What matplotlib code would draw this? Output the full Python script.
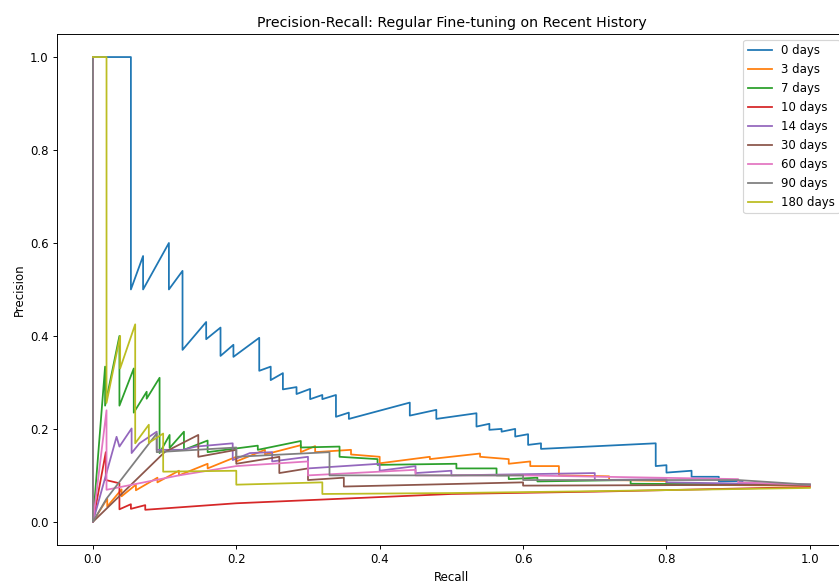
import matplotlib.pyplot as plt

# (recall, precision) vertices of each precision-recall curve
labels = ["0 days", "3 days", "7 days", "10 days", "14 days", "30 days", "60 days", "90 days", "180 days"]

recall_0 = [0, 0.053, 0.053, 0.070, 0.070, 0.106, 0.106, 0.125, 0.125, 0.158, 0.158, 0.178, 0.178, 0.196, 0.196,
            0.232, 0.232, 0.248, 0.248, 0.265, 0.265, 0.284, 0.284, 0.303, 0.303, 0.320, 0.320, 0.339, 0.339,
            0.357, 0.357, 0.442, 0.442, 0.479, 0.479, 0.535, 0.535, 0.553, 0.553, 0.570, 0.570, 0.589, 0.589,
            0.607, 0.607, 0.625, 0.625, 0.785, 0.785, 0.800, 0.800, 0.835, 0.835, 0.873, 0.873, 0.906, 0.906, 1.0]
precision_0 = [1.0, 1.0, 0.50, 0.572, 0.50, 0.60, 0.50, 0.54, 0.37, 0.43, 0.393, 0.418, 0.357, 0.381, 0.355,
               0.396, 0.325, 0.334, 0.305, 0.32, 0.285, 0.29, 0.275, 0.286, 0.264, 0.273, 0.264, 0.273, 0.226,
               0.235, 0.2215, 0.2566, 0.2286, 0.241, 0.2215, 0.2337, 0.205, 0.211, 0.198, 0.200, 0.194, 0.200, 0.1835,
               0.1886, 0.1656, 0.169, 0.157, 0.169, 0.12, 0.122, 0.106, 0.11, 0.097, 0.097, 0.087, 0.088, 0.08, 0.08]

recall_3 = [0, 0, 0.02, 0.02, 0.04, 0.04, 0.06, 0.06, 0.09, 0.09, 0.12, 0.12, 0.16, 0.16, 0.2, 0.2, 0.24, 0.24,
            0.29, 0.29, 0.31, 0.31, 0.36, 0.36, 0.40, 0.40, 0.47, 0.47, 0.54, 0.54, 0.58, 0.58, 0.61, 0.61,
            0.65, 0.65, 0.72, 0.72, 0.8, 0.8, 1.0]
precision_3 = [1.0, 0.0, 0.05, 0.033, 0.07, 0.055, 0.08, 0.068, 0.095, 0.085, 0.11, 0.1, 0.125, 0.115, 0.14, 0.13,
               0.155, 0.145, 0.165, 0.15, 0.163, 0.15, 0.155, 0.145, 0.14, 0.126, 0.14, 0.135, 0.147, 0.14,
               0.135, 0.125, 0.13, 0.12, 0.12, 0.10, 0.098, 0.09, 0.088, 0.08, 0.078]

recall_7 = [0, 0, 0.017, 0.017, 0.037, 0.037, 0.057, 0.057, 0.075, 0.075, 0.093, 0.093, 0.107, 0.107, 0.127,
            0.127, 0.16, 0.16, 0.23, 0.23, 0.29, 0.29, 0.344, 0.344, 0.397, 0.397, 0.507, 0.507, 0.563, 0.563,
            0.58, 0.58, 0.62, 0.62, 0.75, 0.75, 1.0]
precision_7 = [1.0, 0.0, 0.334, 0.25, 0.40, 0.25, 0.33, 0.235, 0.28, 0.265, 0.31, 0.148, 0.187, 0.159, 0.194,
               0.155, 0.175, 0.15, 0.164, 0.155, 0.174, 0.16, 0.162, 0.14, 0.135, 0.1226, 0.125, 0.115, 0.115, 0.10,
               0.10, 0.092, 0.095, 0.087, 0.09, 0.082, 0.08]

recall_10 = [0, 0, 0.018, 0.018, 0.037, 0.037, 0.053, 0.053, 0.073, 0.073, 0.2, 0.35, 0.5, 0.7, 0.85, 1.0]
precision_10 = [1.0, 0.0, 0.15, 0.09, 0.083, 0.027, 0.038, 0.028, 0.036, 0.026, 0.04, 0.05, 0.06, 0.065, 0.07, 0.075]

recall_14 = [0, 0, 0.033, 0.037, 0.054, 0.054, 0.065, 0.089, 0.089, 0.125, 0.144, 0.195, 0.195, 0.219, 0.25,
             0.25, 0.3, 0.3, 0.4, 0.4, 0.45, 0.45, 0.5, 0.5, 0.7, 0.7, 0.8, 0.8, 1.0]
precision_14 = [1.0, 0.0, 0.183, 0.162, 0.201, 0.148, 0.169, 0.194, 0.155, 0.155, 0.162, 0.169, 0.133, 0.148, 0.15,
                0.13, 0.14, 0.115, 0.125, 0.11, 0.12, 0.105, 0.11, 0.1, 0.105, 0.09, 0.092, 0.085, 0.08]

recall_30 = [0, 0, 0.1, 0.147, 0.147, 0.2, 0.2, 0.26, 0.26, 0.3, 0.3, 0.35, 0.35, 0.6, 0.6, 1.0]
precision_30 = [1.0, 0.0, 0.15, 0.187, 0.14, 0.155, 0.125, 0.14, 0.105, 0.115, 0.09, 0.095, 0.076, 0.085, 0.078, 0.08]

recall_60 = [0, 0, 0.019, 0.019, 0.12, 0.2, 0.3, 0.3, 0.45, 0.45, 0.6, 0.9, 0.9, 1.0]
precision_60 = [1.0, 0.0, 0.24, 0.069, 0.10, 0.12, 0.13, 0.1, 0.112, 0.1, 0.1, 0.092, 0.085, 0.08]

recall_90 = [0, 0, 0.019, 0.089, 0.089, 0.2, 0.2, 0.33, 0.33, 0.6, 0.6, 0.9, 1.0]
precision_90 = [1.0, 0.0, 0.05, 0.19, 0.15, 0.16, 0.14, 0.15, 0.1, 0.1, 0.09, 0.09, 0.08]

recall_180 = [0, 0.019, 0.019, 0.038, 0.038, 0.059, 0.059, 0.078, 0.078, 0.098, 0.098, 0.2, 0.2, 0.32, 0.32,
              0.5, 0.7, 1.0]
precision_180 = [1.0, 1.0, 0.256, 0.40, 0.33, 0.425, 0.169, 0.209, 0.17, 0.19, 0.108, 0.11, 0.08, 0.085, 0.06,
                 0.062, 0.066, 0.073]

recalls = [recall_0, recall_3, recall_7, recall_10, recall_14, recall_30, recall_60, recall_90, recall_180]
precisions = [precision_0, precision_3, precision_7, precision_10, precision_14, precision_30, precision_60,
              precision_90, precision_180]

DPI = 85
fig = plt.figure(figsize=(839 / DPI, 583 / DPI), dpi=DPI)
ax = fig.add_axes([0.068, 0.065, 0.940, 0.877])

for r, p, lab in zip(recalls, precisions, labels):
    ax.plot(r, p, label=lab)

ax.set_xlim(-0.05, 1.05)
ax.set_ylim(-0.05, 1.05)
ax.set_title("Precision-Recall: Regular Fine-tuning on Recent History")
ax.set_xlabel("Recall")
ax.set_ylabel("Precision")
ax.legend(loc="upper right")

fig.savefig("out.png", dpi=DPI)
